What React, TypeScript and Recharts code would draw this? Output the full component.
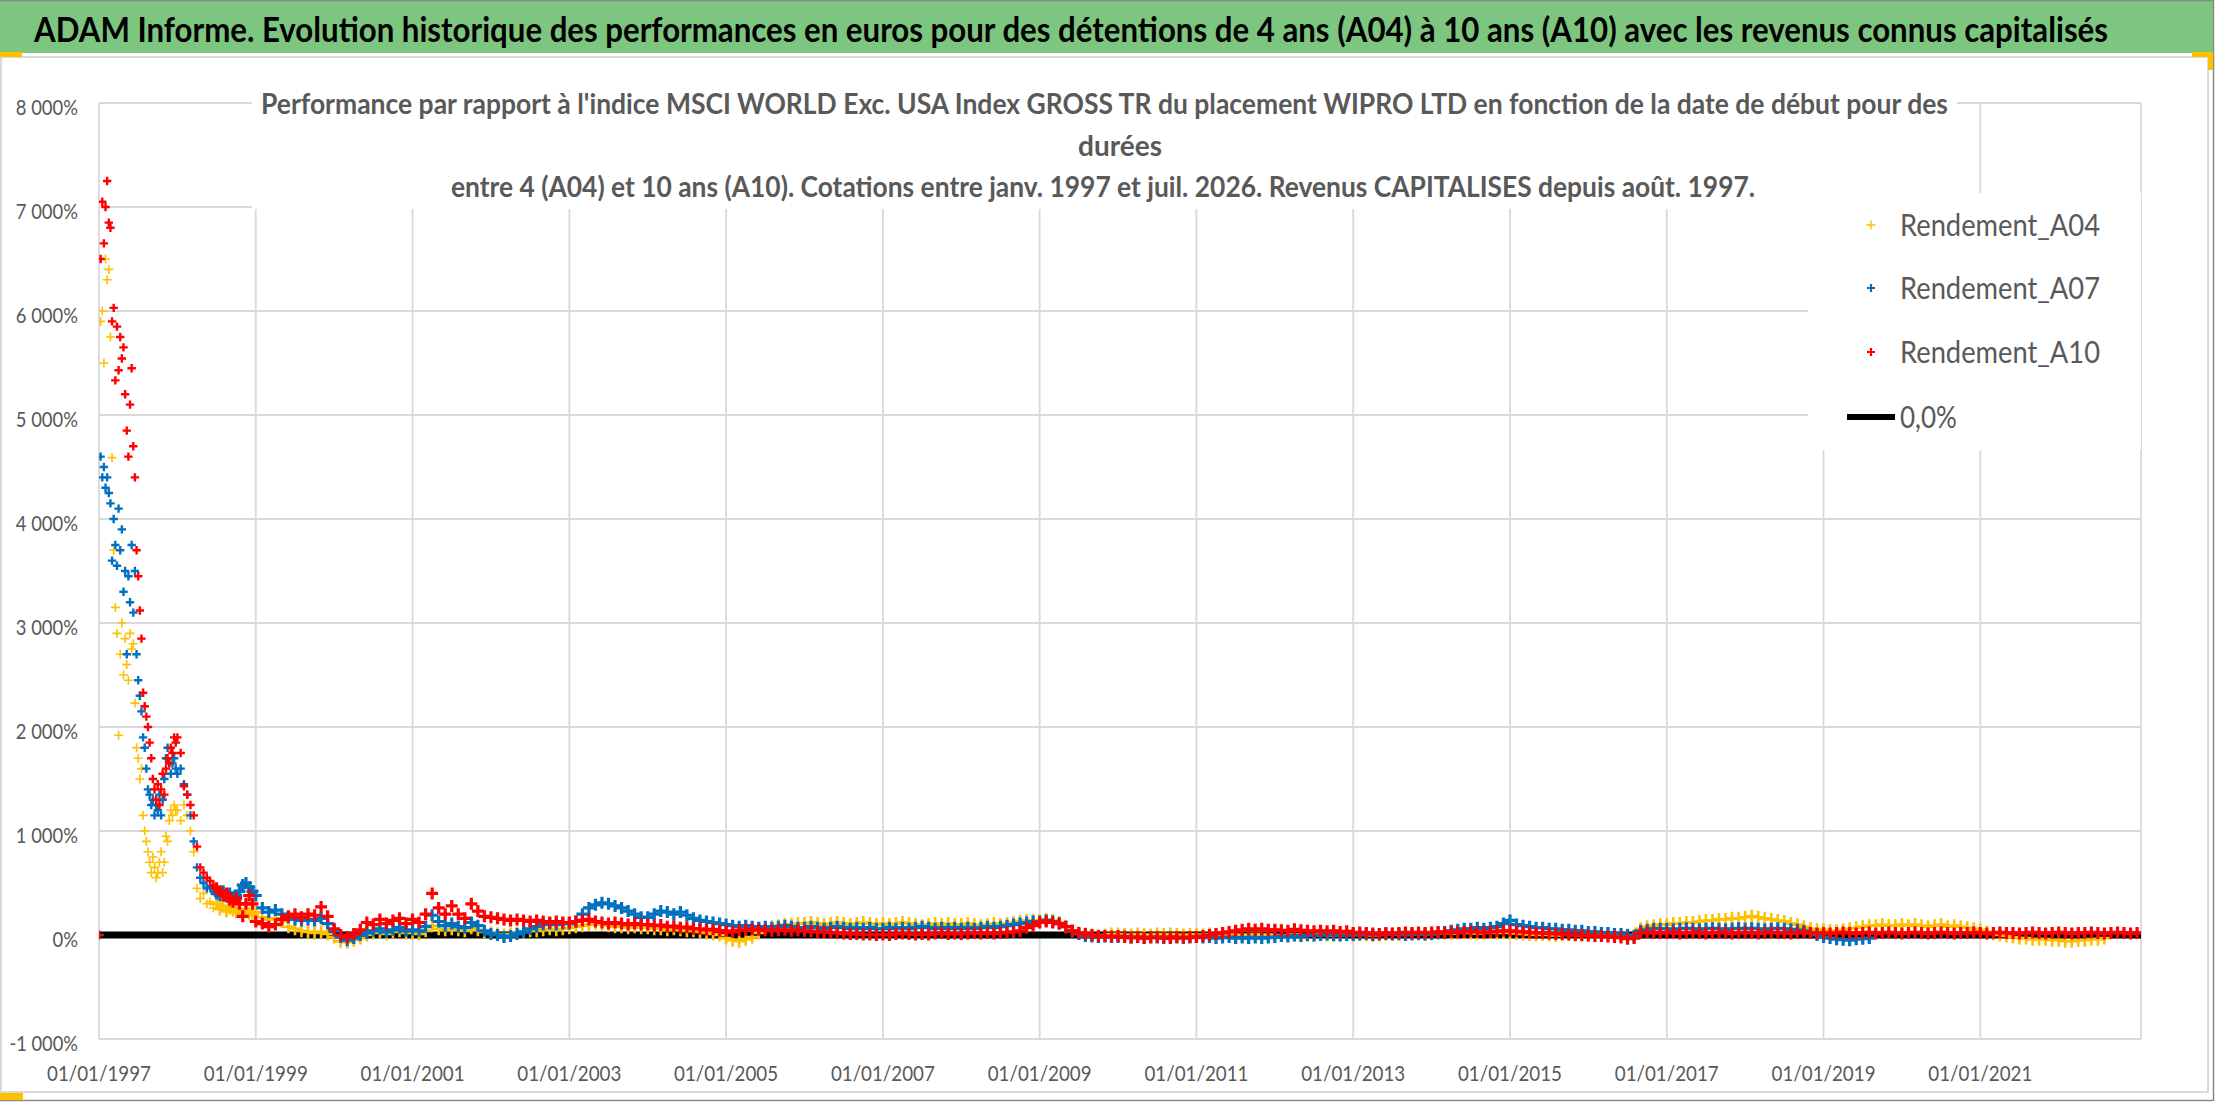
import React, { useLayoutEffect, useRef, useState } from 'react';
import { ScatterChart, Scatter, XAxis, YAxis, CartesianGrid } from 'recharts';

const FONT = "Lato, 'Open Sans', 'DejaVu Sans', sans-serif";
const GRAY_TEXT = '#595959';

const TITLE = 'ADAM Informe. Evolution historique des performances en euros pour des détentions de 4 ans (A04) à 10 ans (A10) avec les revenus connus capitalisés';
const SUBTITLE_1 = "Performance par rapport à l'indice MSCI WORLD Exc. USA Index GROSS TR  du placement WIPRO LTD en fonction de la date de début pour des";
const SUBTITLE_2 = 'durées';
const SUBTITLE_3 = 'entre 4 (A04) et 10 ans (A10). Cotations entre janv. 1997 et juil. 2026. Revenus CAPITALISES depuis août. 1997.';

const X_TICK_YEARS = [1997, 1999, 2001, 2003, 2005, 2007, 2009, 2011, 2013, 2015, 2017, 2019, 2021];
const Y_TICKS = [-1000, 0, 1000, 2000, 3000, 4000, 5000, 6000, 7000, 8000];
const X_DOMAIN = [1997, 2023.05];

const SERIES_NAMES = ['Rendement_A04', 'Rendement_A07', 'Rendement_A10', '0,0%'];
const SERIES_COLORS = ['#FFC000', '#0070C0', '#FF0000', '#000000'];

// ---- Rendement_A04 (%) ----
// 1997, weekly
const A04_1997 = [0, 5900, 6000, 5500, 6500, 6300, 6400, 5750, 4590, 3700, 3150, 2900, 1920, 2700, 3000, 2500, 2850, 2600, 2450, 2900, 2750, 2800, 2230, 1800, 1700, 1500, 1600, 1150, 1000, 900, 800, 700, 600, 750, 650, 550, 600, 700, 800, 600, 700, 950, 900, 1100, 1200, 1150, 1250, 1200];
// 1998, half-monthly
const A04_1998 = [1200, 1100, 1250, 1150, 1000, 800, 450, 350, 400, 300, 320, 260, 300, 250, 280, 230, 260, 240, 220, 250, 200, 230, 210, 200];
// monthly from January 1999
const A04_MONTHLY = [
  220, 170, 150, 160, 130, 80, 60, 40, 30, 20, 30, 10,
  -20, -60, -70, -50, -30, 0, 20, 30, 10, 30, 40, 20,
  20, 10, 40, 90, 60, 50, 60, 50, 40, 70, 50, 30,
  20, 10, 0, 10, 20, 30, 40, 40, 50, 60, 50, 60,
  70, 80, 90, 100, 110, 100, 90, 80, 80, 70, 80, 70,
  70, 60, 60, 50, 60, 50, 40, 40, 30, 20, 10, 0,
  -30, -50, -60, -40, -20, 20, 60, 80, 90, 100, 100, 110,
  110, 120, 110, 100, 110, 120, 110, 100, 110, 120, 110, 100,
  110, 100, 110, 120, 110, 100, 90, 100, 110, 100, 110, 100,
  100, 110, 100, 90, 100, 110, 100, 110, 120, 130, 140, 140,
  140, 150, 140, 120, 80, 40, 20, 10, 0, -10, 0, 10,
  10, 5, 0, 10, 5, 0, 10, 5, 10, 5, 0, 5,
  5, 0, 10, 5, 0, 10, 5, 0, 5, 10, 0, 5,
  0, -5, 0, 5, 0, -5, 0, 5, 0, -5, 0, 5,
  0, 5, 0, -5, 0, 5, 10, 5, 10, 15, 10, 5,
  10, 15, 20, 15, 20, 25, 20, 15, 20, 25, 20, 25,
  20, 15, 10, 5, 0, 5, 0, -5, 0, 5, 0, -5,
  0, -5, 0, 5, 0, -5, 0, -10, 60, 80, 90, 100,
  100, 110, 110, 120, 120, 130, 140, 140, 150, 150, 160, 160,
  170, 180, 170, 160, 150, 140, 130, 110, 100, 80, 60, 50,
  50, 40, 40, 50, 60, 70, 80, 90, 90, 100, 90, 90,
  100, 90, 100, 90, 80, 90, 100, 80, 90, 80, 70, 60,
  50, 30, 10, 0, -10, -20, -30, -30, -40, -40, -40, -50,
  -50, -60, -60, -50, -50, -40, -40, -30,
];

// ---- Rendement_A07 (%) ----
const A07_1997 = [0, 4600, 4400, 4500, 4300, 4400, 4250, 4150, 3600, 4000, 3750, 3550, 4100, 3700, 3900, 3300, 3500, 2700, 3450, 3200, 3750, 3100, 3500, 2700, 2450, 2300, 2150, 1900, 1800, 1600, 1400, 1350, 1250, 1300, 1150, 1250, 1200, 1350, 1150, 1300, 1500, 1700, 1800, 1650, 1550, 1650, 1700, 1600];
const A07_1998 = [1550, 1600, 1450, 1350, 1150, 900, 650, 550, 500, 450, 470, 420, 400, 380, 420, 370, 400, 360, 380, 420, 480, 500, 460, 420];
const A07_MONTHLY = [
  380, 260, 220, 240, 200, 170, 150, 140, 150, 140, 160, 110,
  40, -20, -50, -30, 0, 20, 40, 60, 30, 50, 70, 40,
  50, 40, 80, 190, 130, 90, 110, 80, 70, 120, 90, 40,
  10, 0, -20, -10, 10, 30, 60, 80, 100, 110, 100, 110,
  110, 130, 200, 260, 290, 310, 300, 280, 260, 230, 200, 170,
  170, 200, 230, 220, 200, 220, 190, 160, 140, 130, 120, 110,
  100, 90, 80, 90, 80, 70, 80, 70, 80, 90, 80, 70,
  70, 80, 70, 60, 70, 80, 70, 60, 70, 60, 70, 60,
  60, 70, 60, 70, 60, 70, 80, 70, 60, 70, 60, 70,
  60, 70, 60, 70, 80, 70, 80, 90, 100, 110, 120, 130,
  130, 140, 130, 110, 80, 40, 10, -10, -15, -20, -15, -20,
  -20, -15, -25, -20, -30, -20, -25, -30, -20, -25, -30, -25,
  -20, -25, -20, -30, -25, -20, -30, -25, -30, -25, -30, -25,
  -20, -10, -15, -5, -10, 0, -5, 0, 5, 0, -5, 0,
  0, 5, 10, 0, 5, 10, 5, 10, 0, 5, 10, 5,
  10, 20, 30, 40, 50, 60, 60, 70, 60, 70, 80, 110,
  140, 100, 90, 80, 70, 70, 60, 60, 50, 50, 40, 40,
  30, 30, 20, 20, 10, 10, 0, -10, 40, 50, 60, 60,
  60, 55, 60, 65, 60, 55, 60, 65, 60, 55, 60, 65,
  60, 65, 60, 55, 60, 65, 60, 55, 50, 40, 20, 0,
  -20, -30, -40, -45, -50, -40, -35, -30,
];

// ---- Rendement_A10 (%) ----
const A10_1997 = [0, 6500, 7050, 6650, 7000, 7250, 6850, 6800, 5900, 6030, 5333, 5850, 5430, 5750, 5543, 5650, 5200, 4850, 4600, 5100, 5450, 4700, 4400, 3700, 3450, 3120, 2850, 2330, 2200, 2100, 2000, 1850, 1700, 1500, 1400, 1300, 1450, 1250, 1400, 1550, 1350, 1600, 1700, 1650, 1800, 1750, 1900, 1850];
const A10_1998 = [1900, 1750, 1430, 1350, 1250, 1150, 850, 650, 600, 550, 520, 480, 450, 420, 380, 400, 340, 320, 350, 300, 180, 300, 380, 300];
const A10_MONTHLY = [
  130, 110, 80, 100, 150, 180, 200, 170, 200, 190, 270, 180,
  60, 0, -20, 10, 50, 120, 100, 150, 110, 140, 160, 110,
  150, 120, 200, 400, 260, 200, 280, 200, 160, 300, 230, 180,
  170, 160, 150, 140, 150, 140, 130, 140, 130, 120, 130, 120,
  120, 130, 140, 150, 130, 120, 110, 120, 110, 100, 110, 100,
  100, 90, 95, 80, 85, 70, 75, 60, 60, 50, 55, 40,
  40, 30, 45, 50, 55, 50, 45, 40, 45, 50, 40, 45,
  40, 35, 30, 30, 25, 20, 15, 10, 10, 5, 5, 0,
  5, 0, 10, 15, 10, 5, 10, 5, 15, 20, 10, 15,
  10, 15, 20, 15, 20, 15, 20, 25, 30, 40, 70, 90,
  120, 130, 120, 110, 80, 40, 20, 10, 0, -10, -10, -15,
  -10, -20, -25, -20, -30, -25, -20, -25, -30, -20, -25, -20,
  -20, -10, 0, 10, 20, 30, 40, 50, 60, 50, 60, 50,
  50, 45, 40, 55, 45, 40, 35, 40, 35, 40, 30, 35,
  20, 25, 20, 15, 10, 20, 15, 20, 25, 20, 25, 20,
  25, 30, 20, 30, 25, 30, 35, 30, 25, 30, 35, 40,
  40, 35, 30, 25, 20, 20, 15, 10, 10, 5, 0, 0,
  -5, -10, -10, -15, -20, -25, -35, -30, 20, 25, 20, 20,
  20, 25, 15, 20, 25, 20, 15, 20, 25, 20, 15, 20,
  25, 20, 15, 20, 25, 20, 20, 15, 20, 25, 20, 15,
  20, 15, 20, 25, 20, 15, 20, 25, 15, 20, 25, 20,
  15, 20, 25, 20, 15, 20, 25, 20, 15, 20, 20, 25,
  20, 15, 20, 25, 20, 20, 15, 20, 25, 20, 15, 20,
  25, 20, 15, 20, 20, 25, 20, 15, 20, 25, 20, 15,
  20,
];

// ---- 0,0% reference ----
const ZERO_LINE = [0, 0];

// Dates: 1997 sampled weekly (48/yr), 1998 half-monthly, then monthly from 1999
const buildSeries = (weekly: number[], half: number[], monthly: number[]) => [
  ...weekly.map((y, i) => ({ x: 1997 + i / 48, y })),
  ...half.map((y, i) => ({ x: 1998 + i / 24, y })),
  ...monthly.map((y, i) => ({ x: 1999 + i / 12, y })),
];

const dataA04 = buildSeries(A04_1997, A04_1998, A04_MONTHLY);
const dataA07 = buildSeries(A07_1997, A07_1998, A07_MONTHLY);
const dataA10 = buildSeries(A10_1997, A10_1998, A10_MONTHLY);
const dataZero = ZERO_LINE.map((y, i) => ({ x: X_DOMAIN[i], y }));

// "+" marker; larger where the daily points of the original form a dense band
const makeCross = (color: string, sparse: [number, number], dense: [number, number]) => (props: any) => {
  const { cx, cy, payload } = props;
  if (cx == null || cy == null || isNaN(cx) || isNaN(cy)) return <g />;
  const [half, sw] = payload && payload.x >= 1998.5 ? dense : sparse;
  return (
    <path
      d={`M${cx - half} ${cy}H${cx + half}M${cx} ${cy - half}V${cy + half}`}
      stroke={color}
      strokeWidth={sw}
      fill="none"
    />
  );
};

const yLabel = (v: number) => (v === 0 ? '0%' : `${v < 0 ? '-' : ''}${Math.abs(v) / 1000} 000%`);
const CHAR_W: Record<string, number> = { ' ': 4.8, '%': 15, '-': 6.4 };
const labelWidth = (s: string) => s.split('').reduce((a, c) => a + (CHAR_W[c] ?? 10.6), 0);

const YTick = (props: any) => {
  const { x, y, payload } = props;
  const label = yLabel(payload.value);
  return (
    <text
      x={x - 21}
      y={y + 3}
      textAnchor="end"
      dominantBaseline="central"
      fontFamily={FONT}
      fontSize={21}
      fill={GRAY_TEXT}
      textLength={labelWidth(label)}
      lengthAdjust="spacingAndGlyphs"
    >
      {label}
    </text>
  );
};

const XTick = (props: any) => {
  const { x, y, payload } = props;
  const label = `01/01/${payload.value}`;
  return (
    <text
      x={x}
      y={y + 33}
      textAnchor="middle"
      dominantBaseline="central"
      fontFamily={FONT}
      fontSize={21}
      fill={GRAY_TEXT}
      textLength={104}
      lengthAdjust="spacingAndGlyphs"
    >
      {label}
    </text>
  );
};

const LegendCross = ({ x, y, color, half, sw }: any) => (
  <path d={`M${x - half} ${y}H${x + half}M${x} ${y - half}V${y + half}`} stroke={color} strokeWidth={sw} fill="none" />
);

const TitleText = () => {
  const ref = useRef<HTMLSpanElement>(null);
  const [sx, setSx] = useState(1);
  useLayoutEffect(() => {
    if (ref.current) {
      const w = ref.current.getBoundingClientRect().width;
      if (w > 0) setSx(2074 / w);
    }
  }, []);
  return (
    <div
      style={{
        position: 'absolute',
        left: 34,
        top: 6,
        height: 46,
        lineHeight: '46px',
        whiteSpace: 'nowrap',
        fontFamily: FONT,
        fontWeight: 700,
        fontSize: 34,
        color: '#000',
        transform: `scaleX(${sx})`,
        transformOrigin: 'left center',
      }}
    >
      <span ref={ref}>{TITLE}</span>
    </div>
  );
};

const Overlay = () => {
  const legendRows = [225, 288, 352];
  return (
    <svg
      width={2216}
      height={1102}
      style={{ position: 'absolute', left: 0, top: 0, pointerEvents: 'none' }}
    >
      {/* chart area frame */}
      <rect x={1} y={57} width={2207} height={1035} fill="none" stroke="#D9D9D9" strokeWidth={2} />
      {/* header band */}
      <rect x={0} y={0} width={2213} height={53} fill="#7DC67F" />
      <line x1={0} y1={0.5} x2={2213} y2={0.5} stroke="#8A8A8A" strokeWidth={1.5} />
      <line x1={2213.5} y1={0} x2={2213.5} y2={1101} stroke="#8A8A8A" strokeWidth={1.5} />
      <line x1={0} y1={1100.5} x2={2213} y2={1100.5} stroke="#8A8A8A" strokeWidth={1.5} />
      {/* selection handles */}
      <rect x={0} y={52} width={22} height={5} fill="#FFC000" />
      <rect x={2192} y={52} width={21} height={5} fill="#FFC000" />
      <rect x={2208} y={52} width={5} height={18} fill="#FFC000" />
      <rect x={0} y={1093} width={23} height={7} fill="#FFC000" />

      {/* chart title box */}
      <rect x={252} y={66} width={1705} height={143} fill="#FFFFFF" />
      <g fontFamily={FONT} fontWeight={700} fontSize={28} fill={GRAY_TEXT} textAnchor="middle" style={{ whiteSpace: 'pre' }}>
        <text x={1104.5} y={114} textLength={1687} lengthAdjust="spacingAndGlyphs">{SUBTITLE_1}</text>
        <text x={1120} y={156}>{SUBTITLE_2}</text>
        <text x={1103} y={197} textLength={1304} lengthAdjust="spacingAndGlyphs">{SUBTITLE_3}</text>
      </g>

      {/* legend */}
      <rect x={1808} y={193} width={333} height={257} fill="#FFFFFF" />
      <LegendCross x={1871} y={legendRows[0]} color={SERIES_COLORS[0]} half={4.5} sw={1.4} />
      <LegendCross x={1871} y={legendRows[1]} color={SERIES_COLORS[1]} half={4} sw={2.2} />
      <LegendCross x={1871} y={legendRows[2]} color={SERIES_COLORS[2]} half={4} sw={2.2} />
      <line x1={1847} y1={417} x2={1895} y2={417} stroke={SERIES_COLORS[3]} strokeWidth={6} />
      <g fontFamily={FONT} fontSize={30} fill={GRAY_TEXT}>
        {legendRows.map((ry, i) => (
          <text key={SERIES_NAMES[i]} x={1900} y={ry + 11} textLength={200} lengthAdjust="spacingAndGlyphs">
            {SERIES_NAMES[i]}
          </text>
        ))}
        <text x={1900} y={428} textLength={57} lengthAdjust="spacingAndGlyphs">{SERIES_NAMES[3]}</text>
      </g>
    </svg>
  );
};

export default function App() {
  return (
    <div style={{ position: 'absolute', left: 0, top: 0, width: 2216, height: 1102, background: '#FFFFFF', overflow: 'hidden' }}>
      <ScatterChart width={2216} height={1102} margin={{ top: 103, right: 75, bottom: 0, left: 0 }}>
        <CartesianGrid stroke="#D9D9D9" strokeWidth={1.8} />
        <XAxis
          type="number"
          dataKey="x"
          domain={X_DOMAIN}
          ticks={X_TICK_YEARS}
          allowDataOverflow
          axisLine={false}
          tickLine={false}
          tickSize={0}
          tickMargin={0}
          height={63}
          interval={0}
          tick={(p: any) => <XTick {...p} />}
        />
        <YAxis
          type="number"
          dataKey="y"
          domain={[-1000, 8000]}
          ticks={Y_TICKS}
          allowDataOverflow
          axisLine={false}
          tickLine={false}
          tickSize={0}
          tickMargin={0}
          width={99}
          interval={0}
          tick={(p: any) => <YTick {...p} />}
        />
        <Scatter
          name={SERIES_NAMES[3]}
          data={dataZero}
          line={{ stroke: SERIES_COLORS[3], strokeWidth: 7 }}
          shape={() => <g />}
          isAnimationActive={false}
        />
        <Scatter name={SERIES_NAMES[0]} data={dataA04} shape={makeCross(SERIES_COLORS[0], [4.5, 1.6], [6.5, 2.6])} isAnimationActive={false} />
        <Scatter name={SERIES_NAMES[1]} data={dataA07} shape={makeCross(SERIES_COLORS[1], [4.2, 2.4], [6, 3.2])} isAnimationActive={false} />
        <Scatter name={SERIES_NAMES[2]} data={dataA10} shape={makeCross(SERIES_COLORS[2], [4.2, 2.4], [6, 3.2])} isAnimationActive={false} />
      </ScatterChart>
      <Overlay />
      <TitleText />
    </div>
  );
}
